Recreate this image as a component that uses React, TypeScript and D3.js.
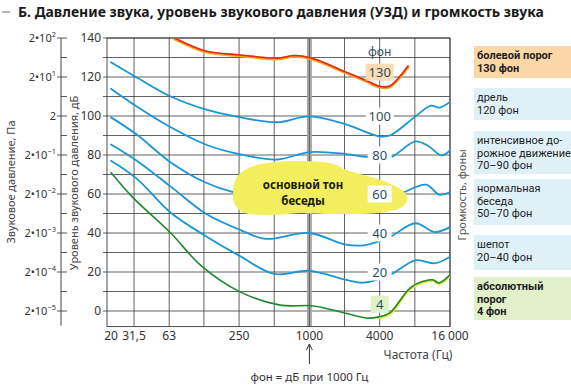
import React from "react";
import * as d3 from "d3";

const W = 571;
const H = 386;
const FONT = "'Noto Sans', 'Open Sans', sans-serif";
const LEGEND_FONT = "Roboto, 'Noto Sans', sans-serif";

const titleText = "Б. Давление звука, уровень звукового давления (УЗД) и громкость звука";

// axes
const xTickValues = [20, 31.5, 63, 250, 1000, 4000, 16000];
const xTickLabels = ["20", "31,5", "63", "250", "1000", "4000", "16 000"];
const xGridValues = [31.5, 63, 125, 250, 500, 1000, 2000, 4000, 8000, 16000];
const yTickValues = [0, 20, 40, 60, 80, 100, 120, 140];
const yGridValues = [0, 10, 20, 30, 40, 50, 60, 70, 80, 90, 100, 110, 120, 130, 140];
const paTickDb = [0, 20, 40, 60, 80, 100, 120, 140];
const paExponents = ["−5", "−4", "−3", "−2", "−1", "", "1", "2"];

// equal-loudness curves (frequency in Hz, level in dB)
const f130 = [70, 130, 257, 530, 750, 1070, 2060, 3000, 3940, 4900, 6000, 7000];
const db130 = [140, 133.3, 131.3, 129.7, 131, 129.5, 122.5, 118.5, 115.3, 115.4, 120.5, 125.6];

const f100 = [20, 33, 65, 129, 257, 530, 1000, 2060, 3940, 4890, 8100, 11000, 13000, 16000];
const db100 = [127.6, 119.9, 110, 103.4, 99.3, 96.8, 99.8, 95.7, 89.6, 90, 99.8, 105.3, 104.3, 107.2];

const f80 = [20, 33, 65, 129, 257, 530, 1000, 2060, 3100, 4890, 8100, 10500, 13500, 16000];
const db80 = [114, 105, 94.2, 85.4, 80.3, 77.7, 81.5, 80.5, 79, 78.7, 87, 84.5, 79.8, 82.3];

const f60 = [20, 33, 65, 129, 230, 530, 1000, 2060, 3940, 6500, 10000, 12900, 16000];
const db60 = [99.3, 90.6, 76.2, 65.9, 60.7, 57.5, 60.5, 57.5, 55, 61, 64.8, 59.7, 61];

const f40 = [20, 33, 65, 129, 257, 420, 1000, 2060, 3000, 4890, 8100, 11800, 16000];
const db40 = [85.4, 77.2, 63.8, 50, 41.5, 37, 40, 34, 33.8, 38, 45, 40.5, 43];

const f20 = [20, 33, 65, 129, 257, 500, 1000, 2060, 2900, 4890, 8100, 12000, 16000];
const db20 = [77, 68, 50.4, 38.5, 28, 19, 20.6, 16, 14.5, 18.5, 26, 24.5, 27.8];

const f4 = [20, 31, 65, 116, 255, 560, 1080, 2000, 3100, 3940, 4890, 7500, 11300, 12900, 16000];
const db4 = [71, 58, 40, 23.7, 9.8, 3, 2.6, -1, -3.6, -3, -1, 12.4, 16, 14.4, 18.5];

// phon labels at 4000 Hz
const phonLabels = ["130", "100", "80", "60", "40", "20", "4"];
const phonLabelDb = [122.5, 100, 80, 60, 40, 20, 3.5];

// highlighted "speech fundamental" area (Hz, dB)
const blobF = [222, 236, 299, 435, 836, 1604, 2072, 4056, 6020, 6912, 6385, 4476, 1604, 836, 435, 266, 227];
const blobDb = [60.5, 68.2, 73.3, 75.9, 76.9, 75.4, 72.3, 67.2, 62.6, 58.5, 53.8, 50.8, 49.7, 50.3, 49.2, 50.8, 55.4];

// legend
const legendLines = [
  ["болевой порог", "130 фон"],
  ["дрель", "120 фон"],
  ["интенсивное до-", "рожное движение", "70–90 фон"],
  ["нормальная", "беседа", "50–70 фон"],
  ["шепот", "20–40 фон"],
  ["абсолютный", "порог", "4 фон"],
];

export default function App() {
  const x = d3.scaleLog().domain([20, 16000]).range([111, 450]);
  const y = d3.scaleLinear().domain([0, 140]).range([311, 38]);
  const left = 107;
  const right = x(16000);
  const top = y(140);
  const bottom = y(-8);

  const line = d3
    .line<[number, number]>()
    .x((d) => x(d[0]))
    .y((d) => y(d[1]))
    .curve(d3.curveCatmullRom.alpha(0.5));
  const zip = (f: number[], v: number[]) => f.map((ff, i) => [ff, v[i]] as [number, number]);

  const blob = d3
    .line<[number, number]>()
    .x((d) => x(d[0]))
    .y((d) => y(d[1]))
    .curve(d3.curveCatmullRomClosed.alpha(0.5))(zip(blobF, blobDb));

  const blue = "#1996d6";
  const gridC = "#3a3a3a";
  const legendFill = ["#fbd7a8", "#dff1f7", "#dff1f7", "#dff1f7", "#dff1f7", "#e1f0c8"];
  const legendBold = [true, false, false, false, false, true];
  const legendBox = [
    [46, 78],
    [88, 120],
    [131, 174],
    [179, 225],
    [235, 270],
    [277, 320],
  ];

  const xl = x(1000);

  return (
    <svg
      width={W}
      height={H}
      style={{ position: "absolute", left: 0, top: 0, background: "#fff" }}
      fontFamily={FONT}
    >
      <defs>
        <clipPath id="plot">
          <rect x={left} y={top} width={right - left} height={bottom - top} />
        </clipPath>
        <clipPath id="hf">
          <rect x={x(3800)} y={top} width={right - x(3800)} height={bottom - top} />
        </clipPath>
      </defs>

      {/* title */}
      <line x1={2} x2={10} y1={12} y2={12} stroke="#888" strokeWidth={1.2} />
      <text x={18} y={17} fontSize={14} fontWeight="bold" fill="#1a1a1a">
        {titleText}
      </text>

      {/* Pa axis */}
      <line x1={61} x2={61} y1={top} y2={bottom - 1} stroke="#444" strokeWidth={1} />
      {yGridValues.map((v) => (
        <line key={"pm" + v} x1={61} x2={67} y1={y(v)} y2={y(v)} stroke="#444" strokeWidth={0.9} />
      ))}
      {paTickDb.map((v, i) => (
        <g key={"pa" + v}>
          <line x1={57} x2={61} y1={y(v)} y2={y(v)} stroke="#444" strokeWidth={0.9} />
          <text x={56} y={y(v) + 4} fontSize={11} fill="#333" textAnchor="end">
            {paExponents[i] === "" ? (
              "2"
            ) : (
              <>
                2•10
                <tspan dy={-5} fontSize={7.5}>
                  {paExponents[i]}
                </tspan>
              </>
            )}
          </text>
        </g>
      ))}
      <text transform={`translate(15,${182}) rotate(-90)`} fontSize={11} fill="#444" textAnchor="middle">
        Звуковое давление, Па
      </text>
      <text transform={`translate(78,${183}) rotate(-90)`} fontSize={11} fill="#444" textAnchor="middle">
        Уровень звукового давления, дБ
      </text>

      {/* plot background */}
      <rect x={left} y={top} width={right - left} height={bottom - top} fill="#fff" />

      {/* grid */}
      {yGridValues.map((v) => (
        <line key={"hg" + v} x1={left - 4} x2={right} y1={y(v)} y2={y(v)} stroke={gridC} strokeWidth={0.8} />
      ))}
      {xGridValues.map((v) =>
        v === 1000 ? null : (
          <line key={"vg" + v} x1={x(v)} x2={x(v)} y1={top} y2={bottom} stroke={gridC} strokeWidth={0.8} />
        )
      )}
      <rect x={xl - 2.5} y={top} width={5} height={bottom - top} fill="#a8a8a8" />
      <line x1={xl} x2={xl} y1={top} y2={bottom} stroke="#555" strokeWidth={0.9} />
      <rect x={left} y={top} width={right - left} height={bottom - top} fill="none" stroke={gridC} strokeWidth={0.9} />

      {/* y tick labels */}
      {yTickValues.map((v) => (
        <text key={"yt" + v} x={101} y={y(v) + 4} fontSize={12} fill="#333" textAnchor="end">
          {v}
        </text>
      ))}
      {/* x tick labels */}
      {xTickValues.map((v, i) => (
        <text key={"xt" + v} x={x(v)} y={340} fontSize={12} fill="#333" textAnchor="middle">
          {xTickLabels[i]}
        </text>
      ))}

      {/* curves */}
      <g clipPath="url(#plot)" fill="none" strokeLinecap="round">
        <path d={line(zip(f130, db130)) || ""} stroke="#f5a623" strokeWidth={3} transform="translate(0,0.8)" />
        <path d={line(zip(f130, db130)) || ""} stroke="#e8261c" strokeWidth={1.6} />
        <path d={line(zip(f100, db100)) || ""} stroke={blue} strokeWidth={1.8} />
        <path d={line(zip(f80, db80)) || ""} stroke={blue} strokeWidth={1.8} />
        <path d={line(zip(f60, db60)) || ""} stroke={blue} strokeWidth={1.8} />
        <path d={line(zip(f40, db40)) || ""} stroke={blue} strokeWidth={1.8} />
        <path d={line(zip(f20, db20)) || ""} stroke={blue} strokeWidth={1.8} />
        <path
          d={line(zip(f4, db4)) || ""}
          stroke="#e8e640"
          strokeWidth={3}
          clipPath="url(#hf)"
          transform="translate(0,0.8)"
        />
        <path d={line(zip(f4, db4)) || ""} stroke="#1e8a2e" strokeWidth={1.6} />
      </g>
      <path d={blob || ""} fill="#f3ee5e" clipPath="url(#plot)" />
      <text x={303} y={188.5} fontSize={11.5} fontWeight="bold" fill="#1a1a1a" textAnchor="middle">
        основной тон
      </text>
      <text x={303} y={204.5} fontSize={11.5} fontWeight="bold" fill="#1a1a1a" textAnchor="middle">
        беседы
      </text>

      {/* phon labels */}
      <text x={x(4000)} y={56} fontSize={12} fill="#2d4f5c" textAnchor="middle">
        фон
      </text>
      {phonLabels.map((t, i) => {
        const cy = y(phonLabelDb[i]);
        const fill = t === "130" ? "#fcdcb4" : t === "4" ? "#e3f1c8" : "#ffffff";
        const w = t.length === 1 ? 18 : t.length === 2 ? 24 : 28;
        return (
          <g key={"pl" + t}>
            <rect x={x(4000) - w / 2} y={cy - 8.5} width={w} height={17} fill={fill} />
            <text x={x(4000)} y={cy + 4.5} fontSize={13} fill="#2d4f5c" textAnchor="middle">
              {t}
            </text>
          </g>
        );
      })}

      {/* frequency axis annotations */}
      <text x={418} y={359} fontSize={12} fill="#444" textAnchor="middle">
        Частота (Гц)
      </text>
      <line x1={xl} x2={xl} y1={345} y2={364} stroke="#333" strokeWidth={1} />
      <path d={`M${xl - 3},${350} L${xl},${344} L${xl + 3},${350}`} fill="none" stroke="#333" strokeWidth={1} />
      <text x={xl} y={381} fontSize={11.5} fill="#333" textAnchor="middle">
        фон = дБ при 1000 Гц
      </text>

      {/* right axis title */}
      <text transform={`translate(466,${195}) rotate(-90)`} fontSize={11} fill="#555" textAnchor="middle">
        Громкость, фоны
      </text>

      {/* legend */}
      {legendLines.map((lines, i) => (
        <g key={"lg" + i}>
          <rect
            x={474}
            y={legendBox[i][0]}
            width={W - 474}
            height={legendBox[i][1] - legendBox[i][0]}
            fill={legendFill[i]}
          />
          {lines.map((l, j) => (
            <text
              key={j}
              x={477}
              y={legendBox[i][0] + 13 + j * 12.5}
              fontSize={11}
              fontFamily={LEGEND_FONT}
              fontWeight={legendBold[i] ? "bold" : "normal"}
              fill="#1e1e1e"
            >
              {l}
            </text>
          ))}
        </g>
      ))}
    </svg>
  );
}
